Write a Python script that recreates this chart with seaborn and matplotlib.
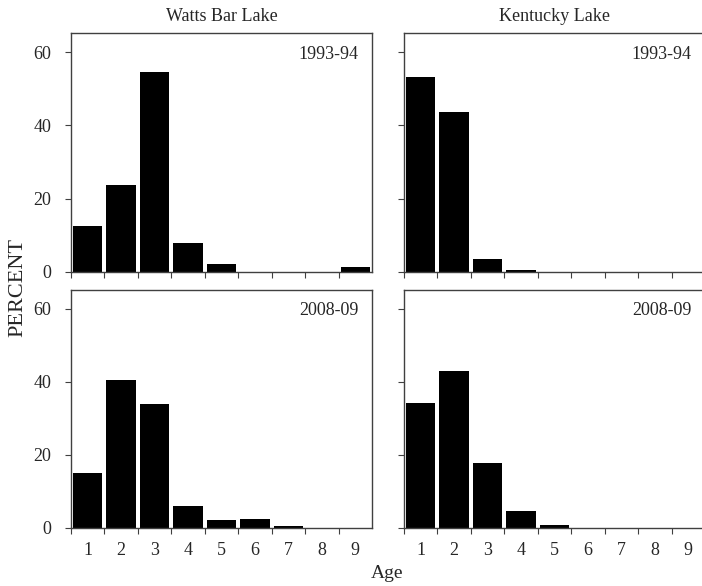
import matplotlib
matplotlib.use("Agg")
import matplotlib.pyplot as plt
import seaborn as sns
import pandas as pd

ages = [1, 2, 3, 4, 5, 6, 7, 8, 9]
lakes = ["Watts Bar Lake", "Kentucky Lake"]
periods = ["1993-94", "2008-09"]
watts_1993 = [12.4, 23.6, 54.6, 7.9, 2.0, 0.0, 0.0, 0.0, 1.2]
kentucky_1993 = [53.3, 43.6, 3.4, 0.5, 0.0, 0.0, 0.0, 0.0, 0.0]
watts_2008 = [15.1, 40.5, 34.1, 6.1, 2.3, 2.6, 0.6, 0.0, 0.0]
kentucky_2008 = [34.3, 42.9, 17.8, 4.7, 0.9, 0.0, 0.0, 0.0, 0.0]
y_ticks = [0, 20, 40, 60]

sns.set_style("white")
plt.rcParams["font.family"] = ["Liberation Serif", "DejaVu Serif"]
edge = "#404040"

fig = plt.figure(figsize=(7.02, 5.86), dpi=100)
W, H = 702, 586
def rect(x0, x1, y0, y1):
    return [x0 / W, 1 - y1 / H, (x1 - x0) / W, (y1 - y0) / H]

boxes = {
    (0, 0): rect(71, 372, 33.3, 271.7),
    (0, 1): rect(404, 705, 33.3, 271.7),
    (1, 0): rect(71, 372, 290, 528),
    (1, 1): rect(404, 705, 290, 528),
}
data = {
    (0, 0): watts_1993, (0, 1): kentucky_1993,
    (1, 0): watts_2008, (1, 1): kentucky_2008,
}

for (r, c), box in boxes.items():
    ax = fig.add_axes(box)
    df = pd.DataFrame({"age": [str(a) for a in ages], "pct": data[(r, c)]})
    sns.barplot(data=df, x="age", y="pct", ax=ax, color="black",
                saturation=1, width=0.88, edgecolor="black", linewidth=0)
    ax.set_xlim(-0.5, 8.5)
    ax.set_ylim(0, 65.2)
    ax.set_xlabel("")
    ax.set_ylabel("")
    ax.set_yticks(y_ticks)
    ax.set_xticks([i - 0.5 for i in range(len(ages))])
    ax.set_xticklabels([])
    ax.set_xticks(list(range(len(ages))), minor=True)
    if r == 1:
        ax.set_xticklabels([str(a) for a in ages], minor=True)
    else:
        ax.set_xticklabels([], minor=True)
    ax.tick_params(axis="x", which="minor", length=0, pad=10, labelsize=13)
    ax.tick_params(axis="both", which="major", direction="out", length=4,
                   width=0.8, color=edge, labelsize=13, bottom=True, left=True)
    ax.tick_params(axis="y", which="major", pad=10)
    if c == 1:
        ax.set_yticklabels([])
    for s in ax.spines.values():
        s.set_color(edge)
        s.set_linewidth(1.0)
    ax.text(0.955, 0.913, periods[r], transform=ax.transAxes, ha="right",
            va="center", fontsize=13)
    if r == 0:
        ax.set_title(lakes[c], fontsize=13, pad=9)

fig.text(17.5 / W, 1 - 287 / H, "PERCENT", rotation=90, ha="center",
         va="center", fontsize=16)
fig.text(387 / W, 1 - 574 / H, "Age", ha="center", va="center", fontsize=14)

fig.savefig("out.png", dpi=100)
